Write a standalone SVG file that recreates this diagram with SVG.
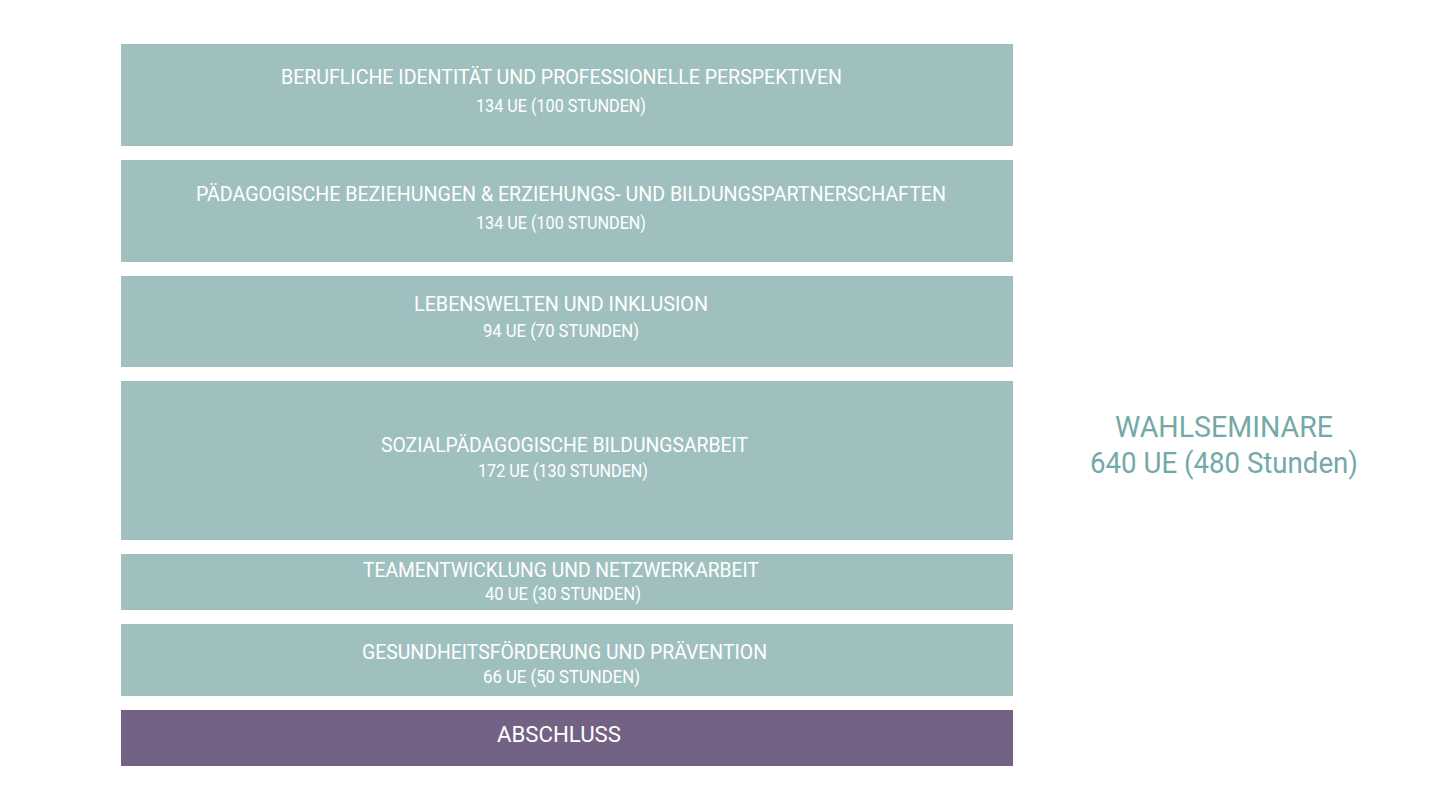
<svg xmlns="http://www.w3.org/2000/svg" width="1440" height="810" viewBox="0 0 1440 810">
  <style>
    .box { fill: #9fc0bf; }
    .final { fill: #746285; }
    .t { font-family: Roboto, "Liberation Sans", sans-serif; font-weight: 400; fill: #ffffff; text-anchor: middle; }
    .title { font-size: 20px; }
    .sub { font-size: 17.5px; }
    .big { font-size: 22px; }
    .side { font-family: Roboto, "Liberation Sans", sans-serif; font-weight: 400; fill: #74a9a8; text-anchor: middle; font-size: 30px; }
  </style>
  <rect width="1440" height="810" fill="#ffffff"/>
  <g id="node-berufliche">
    <rect class="box" x="121" y="44" width="892" height="102"/>
    <text class="t title" x="561.5" y="84" textLength="561" lengthAdjust="spacingAndGlyphs">BERUFLICHE IDENTITÄT UND PROFESSIONELLE PERSPEKTIVEN</text>
    <text class="t sub" x="561" y="112" textLength="170" lengthAdjust="spacingAndGlyphs">134 UE (100 STUNDEN)</text>
  </g>
  <g id="node-paedagogische">
    <rect class="box" x="121" y="160" width="892" height="102"/>
    <text class="t title" x="571" y="201" textLength="750" lengthAdjust="spacingAndGlyphs">PÄDAGOGISCHE BEZIEHUNGEN &amp; ERZIEHUNGS- UND BILDUNGSPARTNERSCHAFTEN</text>
    <text class="t sub" x="561" y="229" textLength="170" lengthAdjust="spacingAndGlyphs">134 UE (100 STUNDEN)</text>
  </g>
  <g id="node-lebenswelten">
    <rect class="box" x="121" y="276" width="892" height="91"/>
    <text class="t title" x="561" y="311.3" textLength="294" lengthAdjust="spacingAndGlyphs">LEBENSWELTEN UND INKLUSION</text>
    <text class="t sub" x="561" y="337.3" textLength="156" lengthAdjust="spacingAndGlyphs">94 UE (70 STUNDEN)</text>
  </g>
  <g id="node-sozialpaedagogische">
    <rect class="box" x="121" y="381" width="892" height="159"/>
    <text class="t title" x="564.5" y="452.3" textLength="367" lengthAdjust="spacingAndGlyphs">SOZIALPÄDAGOGISCHE BILDUNGSARBEIT</text>
    <text class="t sub" x="563" y="476.7" textLength="170" lengthAdjust="spacingAndGlyphs">172 UE (130 STUNDEN)</text>
  </g>
  <g id="node-teamentwicklung">
    <rect class="box" x="121" y="554" width="892" height="56"/>
    <text class="t title" x="561" y="577.3" textLength="396" lengthAdjust="spacingAndGlyphs">TEAMENTWICKLUNG UND NETZWERKARBEIT</text>
    <text class="t sub" x="563" y="600" textLength="156" lengthAdjust="spacingAndGlyphs">40 UE (30 STUNDEN)</text>
  </g>
  <g id="node-gesundheit">
    <rect class="box" x="121" y="624" width="892" height="72"/>
    <text class="t title" x="564.5" y="659.3" textLength="405" lengthAdjust="spacingAndGlyphs">GESUNDHEITSFÖRDERUNG UND PRÄVENTION</text>
    <text class="t sub" x="561.5" y="683.3" textLength="157" lengthAdjust="spacingAndGlyphs">66 UE (50 STUNDEN)</text>
  </g>
  <g id="node-abschluss">
    <rect class="final" x="121" y="710" width="892" height="56"/>
    <text class="t big" x="559" y="742.3" textLength="124" lengthAdjust="spacingAndGlyphs">ABSCHLUSS</text>
  </g>
  <g id="node-wahlseminare">
    <text class="side" x="1224" y="437.3" textLength="218" lengthAdjust="spacingAndGlyphs">WAHLSEMINARE</text>
    <text class="side" x="1224" y="473" textLength="268" lengthAdjust="spacingAndGlyphs">640 UE (480 Stunden)</text>
  </g>
  <g id="connectors"/>
</svg>
